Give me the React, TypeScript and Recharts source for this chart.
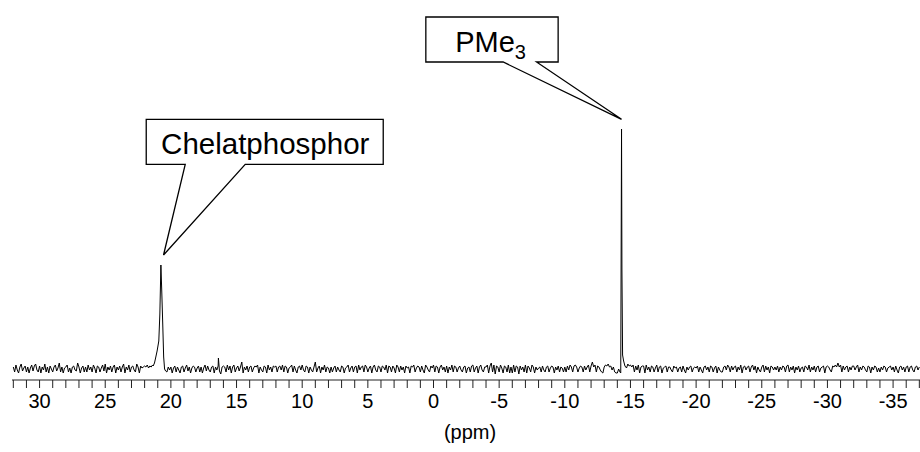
import { LineChart, Line, XAxis, YAxis, ReferenceDot } from "recharts"

// 31P spectrum: baseline noise sampled every 0.1 ppm from 32 ppm downwards
const noiseStart = 32
const noiseStep = 0.1
const noise = [
  2, -3, 4, -1, -4, 2, 5, -2, 1, 3, -3, 2, -4, 1, 4, -2, 3, 5, -1, -3,
  3, -4, 2, -1, 5, -3, 2, -4, 3, 0, -3, 2, 4, -2, 1, 6, -3, 2, -4, 1,
  2, 4, -3, 1, -4, 2, 3, -1, -2, 6, 2, -4, 1, 3, -3, 2, -3, 4, -1, 2,
  -3, 4, 1, -4, 3, 2, -3, 1, 4, -2, 5, -4, 2, -1, 3, -3, 2, 4, -4, 2,
  -1, 3, -3, 2, 5, -4, 2, -1, 4, -3, 2, 3, -1, -3, 5, 2, -4, 3, 1, 2,
  3, 2, 4, 1, 3, 2, 4, 0, 0, 0, 0, 0, 0, 0, 0, 0, 0, -3, 2, -1,
  2, -4, 1, 3, -3, 2, -1, -4, 2, 3, -3, 1, 4, -2, 2, -4, 1, 3, 2, -3,
  1, 3, -3, 2, -4, 1, 4, -2, 3, -1, -3, 2, 3, -4, 2, -1, 3, -2, -5, 2,
  3, 2, -3, 4, -1, 3, -4, 2, 4, -3, 1, 3, -2, 2, 7, -4, 2, -1, 3, -3,
  2, 3, -3, 1, 3, 2, 4, -4, 2, -1, -3, 3, 2, -4, 4, -1, 2, -3, 3, 2,
  3, -3, 2, 3, -1, 4, -3, 3, 2, -4, 1, 2, 4, -3, 3, -1, -4, 2, 3, -1,
  4, -1, -3, 3, 2, -4, 2, -1, -3, 2, 7, -3, 1, 3, -4, 2, -1, 4, -3, 2,
  1, -4, 2, -3, 1, 3, -3, 2, -1, -3, 3, 2, -4, 1, 2, 4, -3, 1, 3, -3,
  2, 3, -4, 4, -1, 2, 3, -3, 4, 2, -3, 1, 3, -4, 2, 4, -1, -3, 3, 2,
  -3, 3, 2, -1, 4, -4, 3, 2, -3, 3, 1, -4, 4, 2, -3, 3, -1, 2, -4, 3,
  1, 2, -4, 3, 2, 4, -3, 1, 3, 2, -3, 3, -1, -4, 4, 2, -1, -3, 3, 1,
  4, -3, 3, 2, -4, 2, 4, -1, 2, -3, 3, -4, 2, -1, 4, -3, 3, 2, -3, 1,
  3, -1, -3, 2, 3, -4, 1, 2, -3, 3, 4, -3, 1, 3, -4, 2, 4, -1, -3, 2,
  2, 4, -4, 3, 6, -3, 4, -5, 3, 2, -3, 4, 1, -4, 3, 2, -3, 4, -4, 2,
  -4, 4, -3, 3, 2, -5, 3, -1, 2, -3, 4, -4, 3, 1, -3, 4, 2, -4, 2, -1,
  1, 2, -3, 3, -1, -3, 2, 3, -3, 1, 3, 2, -4, 2, -1, 3, -3, 2, 1, -3,
  2, -3, 3, -1, 4, 2, -3, 3, 4, 2, -3, 1, 3, 2, -3, 3, -1, 2, 4, -3,
  3, 7, 2, 4, -3, 3, 2, -1, -3, -4, 2, 4, 3, 5, 2, 3, -1, 2, -3, -4,
  -4, 0, 0, 0, 0, 0, 0, 0, 5, 3, 4, 2, 4, -3, 3, -1, 4, -4, 2, 3,
  3, -4, 4, -1, 2, -3, 3, 2, -3, 1, 4, -3, 2, 3, -4, 1, 2, 3, -3, 2,
  2, -1, -3, 3, 1, 2, -3, 1, 2, -3, 3, -1, -4, 2, -1, 2, 3, -3, 1, 2,
  1, 3, -3, 2, -1, -4, 2, 3, -1, 2, -3, 3, 2, -3, 1, 3, -4, 2, -1, -3,
  -3, 2, 3, -1, 4, 2, -3, 3, -1, 2, 3, -3, 2, -1, 4, -4, 2, 3, -1, 2,
  3, -3, 2, 4, -1, 3, -4, 2, -1, -3, 2, 4, -3, 3, -1, 2, -4, 3, 2, -1,
  2, -1, 3, -3, 2, -1, 3, 2, -3, 3, 4, -3, 2, -1, 3, -4, 2, -1, 3, -3,
  1, 2, -3, 3, 2, -1, 4, -3, 2, -1, 3, -3, 2, 3, -3, 1, 2, 3, -4, 2,
  3, 2, -1, -3, 3, 2, 4, 2, 6, 2, 4, -3, 3, -1, 2, 3, -3, 2, -1, 3,
  3, -1, 2, 4, -3, 2, -1, 3, 2, -1, -3, 3, 2, -4, 2, -1, 3, 2, -3, 1,
  -3, 2, -1, 3, 2, -3, 1, 2, 3, -1, 2, -3, 3, -1, -4, 2, 3, -1, 2, -3,
  2, 3, -3, 2, 3, -1, -3, 2, 3, -1, 2,
]

// Chelatphosphor signal around 20.8 ppm
const chelatPpm = [21.35, 21.25, 21.18, 21.05, 20.92, 20.84, 20.76, 20.7, 20.62, 20.55, 20.48, 20.4]
const chelatInt = [3, 6, 10, 18, 28, 55, 104, 80, 45, 12, 0, -2]

// PMe3 signal around -14.3 ppm
const pme3Ppm = [-14.1, -14.2, -14.26, -14.29, -14.32, -14.35, -14.4, -14.48, -14.58, -14.7]
const pme3Int = [0, -3, -4, 120, 240, 100, 14, 8, 3, 1]

// small impurity
const smallPpm = [16.38]
const smallInt = [11]

const xTicks = Array.from({ length: 70 }, (_, i) => 32 - i)

const inPeak = (p: number) => (p < 21.4 && p > 20.35) || (p < -14.05 && p > -14.75)

const data = noise
  .map((v, i) => ({ ppm: +(noiseStart - i * noiseStep).toFixed(2), y: v }))
  .filter((d) => !inPeak(d.ppm))
  .concat(chelatPpm.map((p, i) => ({ ppm: p, y: chelatInt[i] })))
  .concat(pme3Ppm.map((p, i) => ({ ppm: p, y: pme3Int[i] })))
  .concat(smallPpm.map((p, i) => ({ ppm: p, y: smallInt[i] })))
  .sort((a, b) => b.ppm - a.ppm)

const Callout = (props: any) => {
  const { cx, cy, box, gap, text, sub, tx, ty, fs } = props
  const [l, t, r, b] = box
  const d = `M${cx + l},${cy + t} L${cx + r},${cy + t} L${cx + r},${cy + b} L${cx + gap[1]},${cy + b} L${cx},${cy} L${cx + gap[0]},${cy + b} L${cx + l},${cy + b} Z`
  return (
    <g>
      <path d={d} fill="#fff" stroke="#000" strokeWidth={1.3} />
      <text x={cx + tx} y={cy + ty} textAnchor="middle" fontSize={fs} fill="#000">
        {text}
        {sub && (
          <tspan dy={7} fontSize={20}>
            {sub}
          </tspan>
        )}
      </text>
    </g>
  )
}

export default function App() {
  return (
    <div style={{ position: "absolute", left: 0, top: 0, background: "#fff", fontFamily: "Arial, 'Liberation Sans', sans-serif" }}>
      <LineChart width={920} height={452} data={data} margin={{ top: 20, right: 0, bottom: 42, left: 12 }}>
        <XAxis
          dataKey="ppm"
          type="number"
          domain={[-37.05, 32.1]}
          reversed
          allowDataOverflow
          ticks={xTicks}
          interval={0}
          tickFormatter={(v: number) => (v % 5 === 0 ? String(v) : "")}
          tickSize={8}
          tickMargin={6}
          height={30}
          stroke="#222"
          tick={{ fill: "#000", fontSize: 20 }}
          label={{ value: "(ppm)", position: "bottom", offset: 15, dx: 4, fill: "#000", fontSize: 20 }}
        />
        <YAxis hide type="number" domain={[-11, 349]} allowDataOverflow />
        <Line type="linear" dataKey="y" stroke="#000" strokeWidth={1} dot={false} isAnimationActive={false} />
        <ReferenceDot
          x={20.56}
          y={114}
          ifOverflow="visible"
          shape={(p: any) => (
            <Callout {...p} box={[-17.3, -135.7, 219.7, -90.7]} gap={[21.7, 81.7]} text="Chelatphosphor" tx={101.7} ty={-101} fs={29.5} />
          )}
        />
        <ReferenceDot
          x={-14.32}
          y={249.7}
          ifOverflow="visible"
          shape={(p: any) => (
            <Callout {...p} box={[-195.7, -102.3, -63.4, -57.3]} gap={[-118.4, -85]} text="PMe" sub="3" tx={-131} ty={-67.3} fs={29} />
          )}
        />
      </LineChart>
    </div>
  )
}
